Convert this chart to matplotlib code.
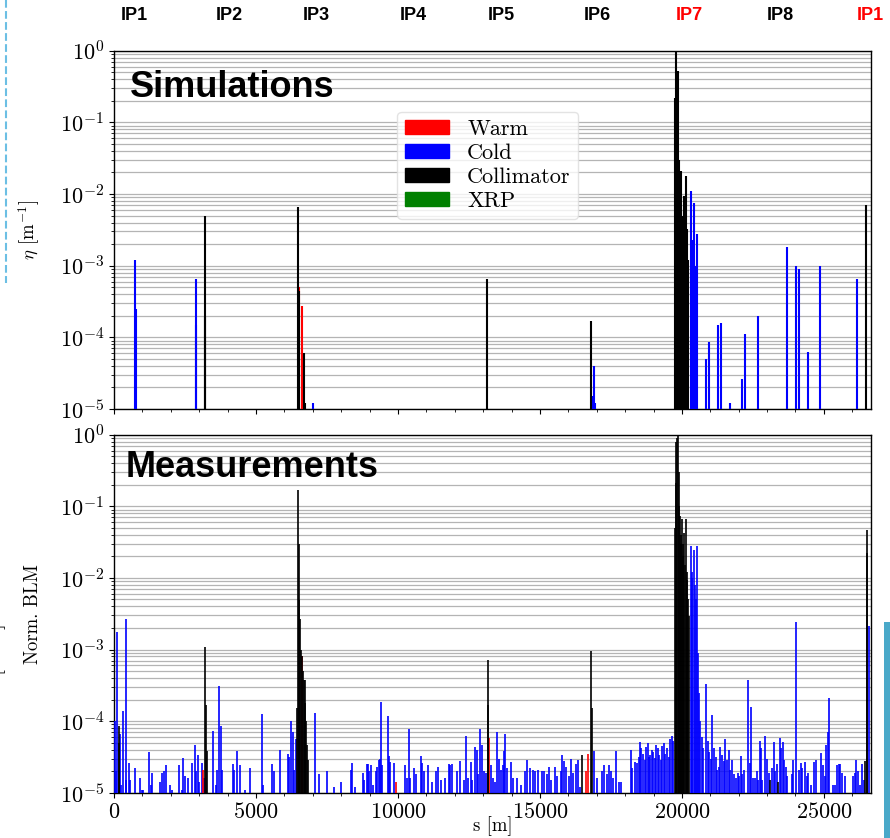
import numpy as np
import matplotlib
matplotlib.use('Agg')
import matplotlib.pyplot as plt
from matplotlib.lines import Line2D
from matplotlib.patches import Patch, Rectangle
from matplotlib.ticker import LogLocator, MultipleLocator, NullFormatter

plt.rcParams['font.family'] = 'serif'
plt.rcParams['font.serif'] = ['cmr10', 'DejaVu Serif']
plt.rcParams['mathtext.fontset'] = 'cm'
plt.rcParams['axes.unicode_minus'] = False
plt.rcParams['axes.formatter.use_mathtext'] = True

# IP labels along the ring
ip_names = ['IP1', 'IP2', 'IP3', 'IP4', 'IP5', 'IP6', 'IP7', 'IP8', 'IP1']
ip_colors = ['black'] * 6 + ['red', 'black', 'red']
ip_xpix = [134, 229, 316, 413, 501, 597, 689, 780, 870]

# --- Simulations (top panel), s [m] and eta [1/m] ---
sim_cold_s = [740, 760, 2875, 2880, 7000, 16870, 16910, 16950,
              20316, 20340, 20370, 20410, 20440, 20480, 20516,
              20833, 20939, 21256, 21372, 21690, 22123, 22229, 22663,
              23685, 24013, 24107, 24436, 24858, 26150]
sim_cold_v = [1.2e-3, 2.5e-4, 6.5e-4, 1.5e-4, 1.2e-5, 1.5e-5, 4e-5, 1.2e-5,
              0.011, 0.0023, 0.002, 0.0076, 0.0012, 0.001, 0.0028,
              5e-5, 8.7e-5, 1.5e-4, 1.6e-4, 1.2e-5, 2.6e-5, 1.1e-4, 2e-4,
              1.8e-3, 1e-3, 9e-4, 6.3e-5, 1e-3, 6.6e-4]

sim_coll_s = [3200, 3215, 6480, 6500, 6690, 6720, 13150, 16800,
              19760, 19777, 19800, 19830, 19870, 19900, 19930, 19953, 19980,
              20000, 20023, 20050, 20082, 20105, 20129, 20160, 20187, 20210,
              26490]
sim_coll_v = [5e-3, 1.9e-4, 6.5e-3, 4.5e-4, 6e-5, 1.2e-5, 6.5e-4, 1.7e-4,
              0.22, 1.0, 0.22, 0.22, 0.52, 0.03, 0.015, 0.021, 0.006,
              0.004, 0.003, 0.005, 0.0093, 0.003, 0.018, 0.0025, 0.0032, 0.0012,
              7e-3]

sim_warm_s = [6530, 6610, 20023]
sim_warm_v = [5e-4, 2.7e-4, 6e-4]

# --- Measurements (bottom panel), s [m] and normalised BLM signal ---
meas_cold_s = [20, 60, 117, 211, 250, 328, 420, 440, 528, 563, 739, 904, 975, 1033,
               1232, 1315, 1350, 1620, 1690, 1760, 1820, 1980, 2060, 2300, 2380,
               2418, 2500, 2617, 2746, 2840, 2890, 2946, 3005, 3087, 3165, 3474,
               3580, 3615, 3709, 3756, 3815, 4178, 4237, 4331, 4449, 4614, 4789,
               5211, 5258, 5563, 5633, 5833, 6115, 6150, 6232, 6290, 6350, 6396,
               7077, 7230, 7511, 7734, 7993, 8333, 8368, 8474, 8756, 8803, 8897,
               8944, 8991, 9061, 9120, 9226, 9273, 9320, 9355, 9402, 9449, 9648,
               9672, 9730, 9859, 10258, 10328, 10375, 10422, 10551, 10633, 10798,
               10845, 10915, 11056, 11209, 11327, 11421, 11503, 11644, 11784, 11831,
               11914, 12067, 12183, 12324, 12394, 12465, 12559, 12617, 12700, 12770,
               12817, 12887, 12970, 13028, 13098, 13262, 13332, 13403, 13473, 13567,
               13638, 13685, 13720, 13755, 13849, 13966, 14060, 14200, 14341, 14458,
               14542, 14636, 14765, 14836, 14941, 15070, 15140, 15234, 15316, 15398,
               15516, 15586, 15727, 15774, 15856, 15927, 16032, 16103, 16150, 16267,
               16338, 16408, 16912, 16994, 17182, 17252, 17346, 17417, 17499, 17581,
               17675, 17792, 17863, 18203, 18250, 18332, 18403, 18473, 18509, 18567,
               18626, 18685, 18743, 18790, 18837, 18884, 18943, 18990, 19048, 19095,
               19142, 19201, 19248, 19306, 19365, 19412, 19470, 19529, 19576, 19635,
               19693, 20316, 20340, 20370, 20410, 20450, 20480, 20516, 20574, 20610,
               20650, 20700, 20749, 20833, 20913, 20971, 21030, 21075, 21136, 21183,
               21243, 21291, 21326, 21420, 21467, 21525, 21584, 21643, 21690, 21748,
               21842, 21901, 21960, 22018, 22065, 22124, 22171, 22323, 22405, 22440,
               22510, 22569, 22628, 22675, 22734, 22769, 22827, 22922, 23004, 23063,
               23168, 23238, 23285, 23356, 23438, 23485, 23544, 23602, 23649, 23696,
               23861, 23908, 24002, 24120, 24179, 24238, 24320, 24391, 24449, 24555,
               24637, 24708, 24906, 24977, 25024, 25083, 25141, 25188, 25329, 25399,
               25470, 25528, 25575, 25634, 25751, 26021, 26080, 26138, 26197, 26256,
               26338, 26397, 26573]
meas_cold_v = [1.0e-4, 2.0e-5, 1.74e-3, 6.6e-5, 1.3e-5, 1.38e-4, 2.7e-3, 1.5e-5, 2.6e-5,
               1.5e-5, 2.2e-5, 1.6e-5, 1.1e-5, 1.1e-5, 3.7e-5, 1.3e-5, 1.9e-5, 1.4e-5,
               1.9e-5, 2.0e-5, 2.4e-5, 1.3e-5, 1.1e-5, 2.4e-5, 1.1e-5, 3.1e-5, 1.7e-5,
               1.6e-5, 2.6e-5, 4.6e-5, 2.0e-5, 3.4e-5, 1.4e-5, 2.6e-5, 1.6e-5, 7.3e-5,
               1.3e-5, 2.1e-5, 3.1e-4, 8.5e-5, 2.1e-5, 2.5e-5, 2.1e-5, 3.8e-5, 2.4e-5,
               1.1e-5, 2.2e-5, 1.24e-4, 1.3e-5, 2.5e-5, 2.0e-5, 4.0e-5, 3.5e-5, 3.2e-5,
               9.9e-5, 7.0e-5, 2.1e-5, 5.7e-5, 1.28e-4, 1.8e-5, 2.0e-5, 1.2e-5, 1.4e-5,
               2.1e-5, 2.6e-5, 1.2e-5, 1.9e-5, 1.5e-5, 2.5e-5, 2.5e-5, 2.0e-5, 2.4e-5,
               1.3e-5, 2.0e-5, 2.3e-5, 2.9e-5, 3.0e-5, 1.86e-4, 2.4e-5, 1.17e-4, 3.3e-5,
               2.7e-5, 2.6e-5, 2.4e-5, 1.6e-5, 7.8e-5, 1.6e-5, 2.2e-5, 1.8e-5, 3.3e-5,
               2.6e-5, 2.0e-5, 2.4e-5, 1.4e-5, 2.0e-5, 2.3e-5, 1.5e-5, 1.6e-5, 2.5e-5,
               2.4e-5, 2.5e-5, 2.0e-5, 2.8e-5, 1.5e-5, 6.2e-5, 1.6e-5, 2.7e-5, 1.5e-5,
               4.4e-5, 4.0e-5, 1.8e-5, 7.7e-5, 4.6e-5, 2.0e-5, 1.9e-5, 2.4e-5, 1.6e-5,
               1.4e-5, 7.1e-5, 3.0e-5, 2.1e-5, 2.4e-5, 3.8e-5, 6.6e-5, 2.2e-5, 2.7e-5,
               1.6e-5, 1.6e-5, 1.3e-5, 2.0e-5, 2.9e-5, 2.2e-5, 2.1e-5, 2.0e-5, 2.1e-5,
               2.0e-5, 2.0e-5, 1.8e-5, 2.3e-5, 1.5e-5, 2.3e-5, 1.7e-5, 2.0e-5, 3.4e-5,
               2.8e-5, 2.3e-5, 1.7e-5, 3.0e-5, 1.9e-5, 2.5e-5, 2.9e-5, 1.2e-5, 3.8e-5,
               1.6e-5, 2.0e-5, 2.4e-5, 1.8e-5, 2.4e-5, 2.0e-5, 1.6e-5, 3.8e-5, 1.4e-5,
               1.4e-5, 3.9e-5, 2.2e-5, 2.7e-5, 2.6e-5, 3.2e-5, 5.1e-5, 4.2e-5, 3.5e-5,
               2.9e-5, 4.4e-5, 5.0e-5, 3.2e-5, 3.4e-5, 4.0e-5, 3.7e-5, 3.1e-5, 4.6e-5,
               4.2e-5, 3.4e-5, 2.9e-5, 4.5e-5, 4.9e-5, 3.5e-5, 4.2e-5, 3.2e-5, 5.7e-5,
               6.2e-5, 5.2e-5, 0.028, 0.010, 0.012, 0.0245, 0.008, 0.005, 0.028, 8.9e-4,
               2.5e-4, 1.0e-4, 6.0e-5, 4.2e-5, 3.3e-4, 5.2e-5, 3.7e-5, 3.0e-5, 1.2e-4,
               4.2e-5, 3.2e-5, 2.1e-5, 2.3e-5, 4.3e-5, 3.4e-5, 2.8e-5, 5.6e-5, 2.9e-5,
               3.9e-5, 2.1e-5, 2.9e-5, 1.8e-5, 1.6e-5, 1.9e-5, 1.7e-5, 3.3e-5, 1.8e-5,
               2.1e-5, 3.7e-4, 2.6e-5, 1.55e-4, 1.6e-5, 1.6e-5, 2.0e-5, 1.5e-5, 5.2e-5,
               4.2e-5, 1.5e-5, 6.1e-5, 3.0e-5, 1.9e-5, 2.2e-5, 5.1e-5, 2.0e-5, 2.5e-5,
               5.9e-5, 4.2e-5, 5.1e-5, 2.9e-5, 2.3e-5, 1.7e-5, 1.8e-5, 2.9e-5, 2.4e-3,
               2.1e-5, 2.6e-5, 2.2e-5, 2.7e-5, 1.7e-5, 1.9e-5, 1.3e-5, 2.7e-5, 2.9e-5,
               3.6e-5, 2.4e-5, 1.7e-5, 4.6e-5, 7.0e-5, 2.1e-4, 1.3e-5, 1.3e-5, 2.4e-5,
               2.5e-5, 2.5e-5, 1.9e-5, 1.7e-5, 1.7e-5, 1.9e-5, 2.9e-5, 2.0e-5, 1.3e-5,
               2.5e-5, 1.5e-5, 2.1e-3]

meas_coll_s = [160, 185, 3204, 3240, 3280,
               6450, 6479, 6505, 6530, 6560, 6590, 6620, 6650, 6680, 6713, 6740, 6770,
               6795, 6843, 13168, 13185, 16490, 16795, 16830,
               19755, 19777, 19800, 19830, 19858, 19885, 19910, 19929, 19955, 19980,
               20000, 20025, 20050, 20082, 20110, 20140, 20165, 20187, 20212, 20236,
               23110, 23391, 26455, 26502, 26520]
meas_coll_v = [8.5e-5, 5e-5, 1.07e-3, 1.7e-4, 3.8e-5,
               1.5e-4, 0.17, 0.03, 4.9e-3, 2.7e-3, 1.0e-3, 8e-4, 5e-4, 3.7e-4, 3.7e-4,
               1.78e-4, 1.0e-4, 4.6e-5, 2.9e-5, 7.1e-4, 1.67e-4, 3.4e-5, 9.6e-4, 1.5e-4,
               0.05, 0.21, 0.8, 0.9, 1.0, 0.3, 0.1, 0.073, 0.04, 0.03,
               0.066, 0.02, 0.03, 0.042, 0.015, 0.066, 0.012, 0.0093, 0.005, 0.0029,
               1.5e-5, 1.4e-5, 2.8e-5, 0.047, 0.022]

meas_warm_s = [3120, 6620, 9918, 13215, 16607, 16678]
meas_warm_v = [2.1e-5, 8e-4, 1.4e-5, 5.8e-5, 2e-5, 3.5e-5]

ring_length = 26659

W, H = 890, 838
fig = plt.figure(figsize=(W / 100, H / 100), dpi=100)
x0, x1 = 114 / W, 871 / W
ax1 = fig.add_axes([x0, 1 - 409 / H, x1 - x0, (409 - 50.7) / H])
ax2 = fig.add_axes([x0, 1 - 792.7 / H, x1 - x0, (792.7 - 434.7) / H], sharex=ax1)

def draw_panel(ax, cold, coll, warm, lw):
    ax.set_yscale('log')
    ax.vlines(cold[0], 1e-7, cold[1], colors='blue', lw=lw, zorder=3)
    ax.vlines(warm[0], 1e-7, warm[1], colors='red', lw=lw, zorder=3.5)
    ax.vlines(coll[0], 1e-7, coll[1], colors='black', lw=lw, zorder=4)
    ax.set_ylim(1e-5, 1)
    ax.set_xlim(0, ring_length)
    ax.yaxis.set_major_locator(LogLocator(base=10, numticks=10))
    ax.yaxis.set_minor_locator(LogLocator(base=10, subs=np.arange(2, 10), numticks=12))
    ax.yaxis.set_minor_formatter(NullFormatter())
    ax.grid(True, axis='y', which='both', color='#b4b4b4', lw=0.9)
    ax.set_axisbelow(True)
    ax.tick_params(axis='both', which='major', labelsize=16)
    ax.xaxis.set_major_locator(MultipleLocator(5000))
    ax.xaxis.set_minor_locator(MultipleLocator(1000))
    for sp in ax.spines.values():
        sp.set_linewidth(1.0)

draw_panel(ax1, (sim_cold_s, sim_cold_v), (sim_coll_s, sim_coll_v),
           (sim_warm_s, sim_warm_v), 1.5)
draw_panel(ax2, (meas_cold_s, meas_cold_v), (meas_coll_s, meas_coll_v),
           (meas_warm_s, meas_warm_v), 1.2)

ax1.tick_params(axis='x', labelbottom=False)
ax1.set_ylabel(r'$\eta$ [m$^{-1}$]', fontsize=13.5)
ax1.yaxis.set_label_coords(-0.095, 0.5)
ax2.set_ylabel('Norm. BLM', fontsize=13.5)
ax2.yaxis.set_label_coords(-0.095, 0.5)
ax2.set_xlabel('s [m]', fontsize=13.5)
ax2.xaxis.set_label_coords(0.5, -0.066)

ax1.text(0.021, 0.87, 'Simulations', transform=ax1.transAxes, fontsize=26,
         fontweight='bold', family='Liberation Sans', va='baseline', zorder=6)
ax2.text(0.016, 0.883, 'Measurements', transform=ax2.transAxes, fontsize=26,
         fontweight='bold', family='Liberation Sans', va='baseline', zorder=6)

handles = [Patch(color='red', label='Warm'), Patch(color='blue', label='Cold'),
           Patch(color='black', label='Collimator'), Patch(color='green', label='XRP')]
leg = ax1.legend(handles=handles, loc='upper left', bbox_to_anchor=(0.374, 0.829),
                 borderaxespad=0, fontsize=16, handlelength=2.0, handleheight=0.6,
                 labelspacing=0.2, handletextpad=0.8, borderpad=0.35,
                 framealpha=0.8, edgecolor='#dddddd')
leg.set_zorder(7)

for name, col, xp in zip(ip_names, ip_colors, ip_xpix):
    fig.text(xp / W, 1 - 16 / H, name, color=col, fontsize=13, fontweight='bold',
             family='Liberation Sans', ha='center', va='center')

# slide leftovers at the picture edges
fig.add_artist(Line2D([6 / W, 6 / W], [1, 1 - 283 / H], transform=fig.transFigure,
                      ls='--', color='#6cbfe4', lw=1.5))
fig.text(-0.004, 1 - 660 / H, 'E [TeV]', rotation=90, fontsize=15,
         ha='center', va='center')
fig.add_artist(Rectangle((884 / W, 0), 6 / W, (838 - 622) / H,
                         transform=fig.transFigure, color='#4aa9c9', lw=0))

fig.savefig('out.png', dpi=100)
